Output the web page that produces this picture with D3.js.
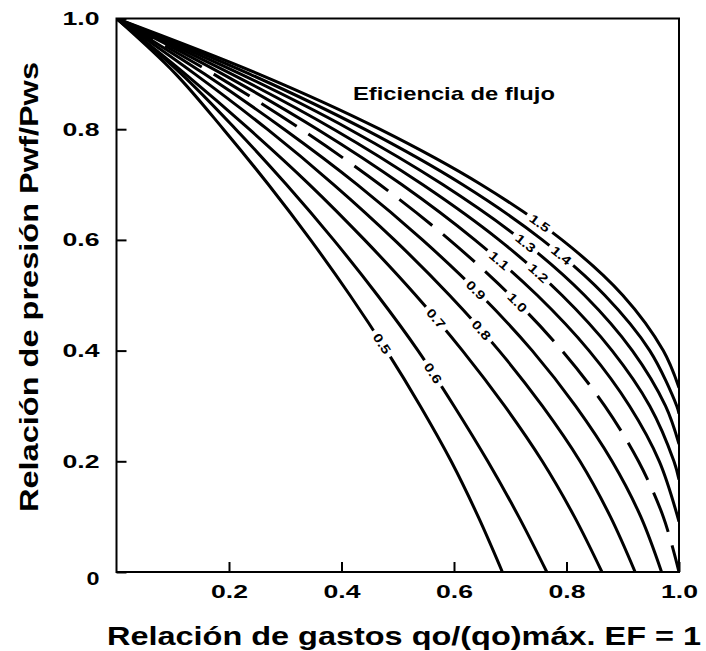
<!DOCTYPE html>
<html>
<head>
<meta charset="utf-8">
<script src="https://cdn.jsdelivr.net/npm/d3@7"></script>
<style>
  body { margin: 0; background: #fff; }
  svg { display: block; }
  text { font-family: "Liberation Sans", Arial, sans-serif; font-weight: bold; fill: #000; }
</style>
</head>
<body>
<svg id="chart" width="706" height="651"></svg>
<script>
// Inflow performance curves: [q/qmax (EF = 1), Pwf/Pws] for each flow efficiency
const curve050 = [[0,1],[0.105,0.9],[0.19,0.8],[0.27,0.7],[0.345,0.6],[0.415,0.5],[0.48,0.4],[0.54,0.3],[0.595,0.2],[0.643,0.1],[0.686,0]];
const curve060 = [[0,1],[0.115,0.9],[0.212,0.8],[0.302,0.7],[0.386,0.6],[0.464,0.5],[0.536,0.4],[0.600,0.3],[0.660,0.2],[0.715,0.1],[0.765,0]];
const curve070 = [[0,1],[0.122,0.9],[0.236,0.8],[0.343,0.7],[0.441,0.6],[0.532,0.5],[0.615,0.4],[0.690,0.3],[0.757,0.2],[0.814,0.1],[0.863,0]];
const curve080 = [[0,1],[0.139,0.9],[0.268,0.8],[0.386,0.7],[0.494,0.6],[0.592,0.5],[0.680,0.4],[0.757,0.3],[0.824,0.2],[0.878,0.1],[0.922,0]];
const curve090 = [[0,1],[0.156,0.9],[0.298,0.8],[0.428,0.7],[0.544,0.6],[0.648,0.5],[0.739,0.4],[0.816,0.3],[0.881,0.2],[0.932,0.1],[0.969,0]];
const curve100 = [[0,1],[0.172,0.9],[0.328,0.8],[0.468,0.7],[0.592,0.6],[0.700,0.5],[0.792,0.4],[0.868,0.3],[0.928,0.2],[0.972,0.1],[1.0,0]];
const curve110 = [[0,1],[0.188,0.9],[0.357,0.8],[0.507,0.7],[0.637,0.6],[0.748,0.5],[0.840,0.4],[0.912,0.3],[0.965,0.2],[1.0,0.091]];
const curve120 = [[0,1],[0.204,0.9],[0.386,0.8],[0.544,0.7],[0.680,0.6],[0.792,0.5],[0.881,0.4],[0.948,0.3],[0.991,0.2],[1.0,0.167]];
const curve130 = [[0,1],[0.220,0.9],[0.414,0.8],[0.580,0.7],[0.720,0.6],[0.832,0.5],[0.917,0.4],[0.976,0.3],[1.0,0.231]];
const curve140 = [[0,1],[0.236,0.9],[0.441,0.8],[0.615,0.7],[0.757,0.6],[0.868,0.5],[0.948,0.4],[0.996,0.3],[1.0,0.286]];
const curve150 = [[0,1],[0.252,0.9],[0.468,0.8],[0.648,0.7],[0.792,0.6],[0.900,0.5],[0.972,0.4],[1.0,0.333]];

const efficiencyLabels = ["0.5","0.6","0.7","0.8","0.9","1.0","1.1","1.2","1.3","1.4","1.5"];
// Pressure ratio at which each curve carries its label
const labelPressure = [0.413, 0.359, 0.458, 0.437, 0.509, 0.487, 0.563, 0.540, 0.594, 0.572, 0.630];

const xTicks = [0.2, 0.4, 0.6, 0.8, 1.0];
const xTickLabels = ["0.2", "0.4", "0.6", "0.8", "1.0"];
const yTicks = [0, 0.2, 0.4, 0.6, 0.8, 1.0];
const yTickLabels = ["0", "0.2", "0.4", "0.6", "0.8", "1.0"];

const curveData = [curve050, curve060, curve070, curve080, curve090, curve100,
                   curve110, curve120, curve130, curve140, curve150];

const svg = d3.select("#chart");
const x = d3.scaleLinear().domain([0, 1]).range([116.5, 679]);
const y = d3.scaleLinear().domain([0, 1]).range([572, 18.5]);

svg.append("defs").append("clipPath").attr("id", "plotClip")
  .append("rect")
  .attr("x", x(0)).attr("y", y(1))
  .attr("width", x(1) - x(0)).attr("height", y(0) - y(1));

const line = d3.line()
  .x(d => x(d[0]))
  .y(d => y(d[1]))
  .curve(d3.curveCatmullRom.alpha(0.5));

const curvesG = svg.append("g").attr("clip-path", "url(#plotClip)");
const paths = curveData.map((pts, i) =>
  curvesG.append("path")
    .attr("d", line(pts))
    .attr("fill", "none")
    .attr("stroke", "#000")
    .attr("stroke-width", 3)
    .attr("stroke-dasharray", efficiencyLabels[i] === "1.0" ? "42,14" : null)
    .node()
);

// Curve labels, set along the line with a white gap behind them
const labelsG = svg.append("g");
paths.forEach((p, i) => {
  const L = p.getTotalLength();
  const targetY = y(labelPressure[i]);
  let best = 0, bestD = Infinity;
  for (let l = 0; l <= L; l += 0.5) {
    const pt = p.getPointAtLength(l);
    const dd = Math.abs(pt.y - targetY);
    if (dd < bestD) { bestD = dd; best = l; }
  }
  const c = p.getPointAtLength(best);
  const a = p.getPointAtLength(Math.max(0, best - 4));
  const b = p.getPointAtLength(Math.min(L, best + 4));
  const ang = Math.atan2(b.y - a.y, b.x - a.x) * 180 / Math.PI;
  const g = labelsG.append("g").attr("transform", `translate(${c.x},${c.y}) rotate(${ang})`);
  const w = 31;
  g.append("rect").attr("x", -w / 2).attr("y", -5).attr("width", w).attr("height", 10).attr("fill", "#fff");
  g.append("text")
    .attr("text-anchor", "middle")
    .attr("dy", "0.36em")
    .style("font-size", "12.5px")
    .attr("textLength", 22)
    .attr("lengthAdjust", "spacingAndGlyphs")
    .text(efficiencyLabels[i]);
});

// Frame
svg.append("rect")
  .attr("x", x(0)).attr("y", y(1))
  .attr("width", x(1) - x(0)).attr("height", y(0) - y(1))
  .attr("fill", "none").attr("stroke", "#000").attr("stroke-width", 2);

// Axes with inward ticks
const yAxis = svg.append("g")
  .attr("transform", `translate(${x(0)},0)`)
  .call(d3.axisLeft(y).tickValues(yTicks).tickSize(-10).tickPadding(17)
    .tickFormat((d, i) => yTickLabels[i]));
const xAxis = svg.append("g")
  .attr("transform", `translate(0,${y(0)})`)
  .call(d3.axisBottom(x).tickValues(xTicks).tickSize(-10).tickPadding(13)
    .tickFormat((d, i) => xTickLabels[i]));

[yAxis, xAxis].forEach(ax => {
  ax.select(".domain").remove();
  ax.selectAll(".tick line").attr("stroke", "#000").attr("stroke-width", 2);
  ax.selectAll(".tick text")
    .attr("fill", "#000")
    .style("font-size", "18.5px")
    .style("font-family", "'Liberation Sans', Arial, sans-serif")
    .style("font-weight", "bold")
    .attr("textLength", function () { return this.textContent.length === 1 ? 13 : 37; })
    .attr("lengthAdjust", "spacingAndGlyphs");
});
yAxis.selectAll(".tick").filter(d => d === 0).select("text").attr("dy", "0.65em");

// Titles
svg.append("text")
  .attr("x", 404).attr("y", 645)
  .attr("text-anchor", "middle")
  .style("font-size", "25px")
  .attr("textLength", 594)
  .attr("lengthAdjust", "spacingAndGlyphs")
  .text("Relación de gastos qo/(qo)máx. EF = 1");

svg.append("text")
  .attr("transform", "translate(38,287) rotate(-90)")
  .attr("text-anchor", "middle")
  .style("font-size", "26px")
  .attr("textLength", 450)
  .attr("lengthAdjust", "spacingAndGlyphs")
  .text("Relación de presión Pwf/Pws");

svg.append("text")
  .attr("x", 353).attr("y", 100)
  .style("font-size", "19px")
  .attr("textLength", 202)
  .attr("lengthAdjust", "spacingAndGlyphs")
  .text("Eficiencia de flujo");
</script>
</body>
</html>
